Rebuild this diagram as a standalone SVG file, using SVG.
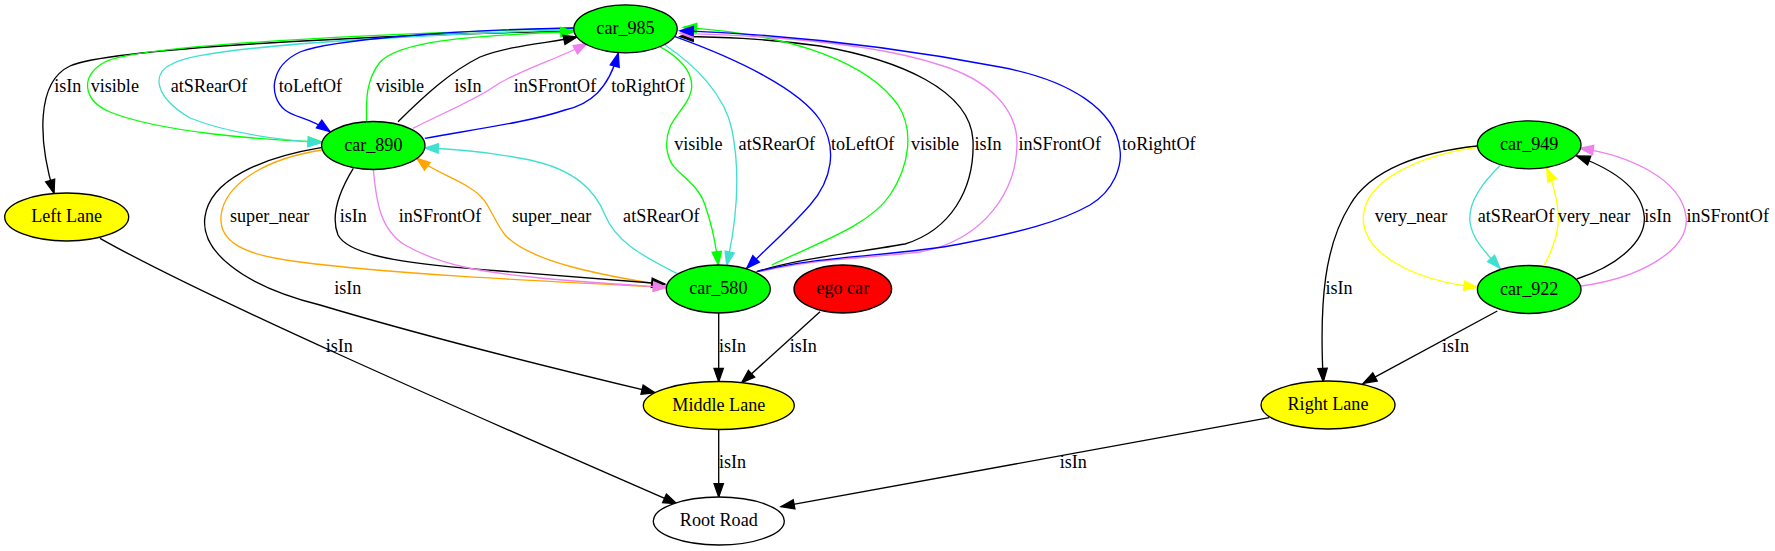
<svg xmlns="http://www.w3.org/2000/svg" width="1775" height="551" viewBox="0 0 1775 551">
<style>
text{font-family:"Liberation Serif","Times New Roman",serif;font-size:18.1px;text-anchor:middle;fill:#000}
.n{stroke:#000;stroke-width:1.33}
.e{fill:none;stroke-width:1.33}
.k{stroke:#000;marker-end:url(#ak)}
.g{stroke:#00ff00;marker-end:url(#ag)}
.t{stroke:#40e0d0;marker-end:url(#at)}
.b{stroke:#0000ff;marker-end:url(#ab)}
.v{stroke:#ee82ee;marker-end:url(#av)}
.o{stroke:#ffa500;marker-end:url(#ao)}
.y{stroke:#ffff00;marker-end:url(#ay)}
</style>
<defs>
<marker id="ak" markerUnits="userSpaceOnUse" orient="auto" refX="13.3" refY="5" markerWidth="16" markerHeight="12" overflow="visible"><path d="M0,0.33L13.3,5L0,9.67z" fill="#000" stroke="#000" stroke-width="1.33"/></marker>
<marker id="ag" markerUnits="userSpaceOnUse" orient="auto" refX="13.3" refY="5" markerWidth="16" markerHeight="12" overflow="visible"><path d="M0,0.33L13.3,5L0,9.67z" fill="#00ff00" stroke="#00ff00" stroke-width="1.33"/></marker>
<marker id="at" markerUnits="userSpaceOnUse" orient="auto" refX="13.3" refY="5" markerWidth="16" markerHeight="12" overflow="visible"><path d="M0,0.33L13.3,5L0,9.67z" fill="#40e0d0" stroke="#40e0d0" stroke-width="1.33"/></marker>
<marker id="ab" markerUnits="userSpaceOnUse" orient="auto" refX="13.3" refY="5" markerWidth="16" markerHeight="12" overflow="visible"><path d="M0,0.33L13.3,5L0,9.67z" fill="#0000ff" stroke="#0000ff" stroke-width="1.33"/></marker>
<marker id="av" markerUnits="userSpaceOnUse" orient="auto" refX="13.3" refY="5" markerWidth="16" markerHeight="12" overflow="visible"><path d="M0,0.33L13.3,5L0,9.67z" fill="#ee82ee" stroke="#ee82ee" stroke-width="1.33"/></marker>
<marker id="ao" markerUnits="userSpaceOnUse" orient="auto" refX="13.3" refY="5" markerWidth="16" markerHeight="12" overflow="visible"><path d="M0,0.33L13.3,5L0,9.67z" fill="#ffa500" stroke="#ffa500" stroke-width="1.33"/></marker>
<marker id="ay" markerUnits="userSpaceOnUse" orient="auto" refX="13.3" refY="5" markerWidth="16" markerHeight="12" overflow="visible"><path d="M0,0.33L13.3,5L0,9.67z" fill="#ffff00" stroke="#ffff00" stroke-width="1.33"/></marker>
</defs>
<rect width="1775" height="551" fill="#fff"/>
<g id="connectors">
<path class="e k" d="M574,31 C380,35 110,48 70,66 C36,82 38,140 54,193.3"/>
<path class="e g" d="M574,28 C380,34 140,44 105,62 C80,75 82,100 110,112 C160,132 260,140 321.5,142"/>
<path class="e t" d="M574,29.5 C400,36 200,46 172,64 C150,74 156,98 190,118 C230,134 280,140 321.5,142.7"/>
<path class="e b" d="M574,28 C450,30 330,40 300,52 C270,66 268,96 285,110 C295,118 309,117 330,131.7"/>
<path class="e g" d="M366.6,121.7 C366,100 366,80 380,62 C400,42 460,36 574,31.5"/>
<path class="e k" d="M398,121.7 C425,95 450,72 480,57 C510,45 550,43 577,37"/>
<path class="e v" d="M413,128.3 C445,112 475,100 495,86 C515,72 560,58 587,43.5"/>
<path class="e b" d="M424.8,138.3 C470,130 530,122 565,110 C590,104 608,90 618.3,53.3"/>
<path class="e g" d="M660,46.7 C680,58 692,72 691.7,86.7 C691,102 675,115 670,127 C664,142 666,160 677,170 C690,182 700,190 705,205 C712,225 716,245 718.3,265"/>
<path class="e t" d="M665,45 C695,65 725,95 732,130 C740,170 738,215 726.7,265"/>
<path class="e b" d="M675,36.7 C740,60 800,90 820,120 C838,148 832,180 810,205 C790,228 765,250 746.7,268.3"/>
<path class="e k" d="M756.7,271.7 C800,258 860,252 905,244 C950,230 975,190 973,140 C970,90 900,60 820,46 C760,38 720,37 680,36.5"/>
<path class="e g" d="M771.7,265 C820,242 870,225 890,195 C910,165 914,130 898,105 C870,65 800,35 683.3,27.3"/>
<path class="e v" d="M760,271.7 C820,258 870,258 920,252 C985,240 1017,190 1017,143 C1017,110 990,80 940,65 C880,45 780,36 680,33.3"/>
<path class="e b" d="M756.7,271.7 C820,255 900,256 960,244 C1020,232 1060,222 1090,205 C1115,190 1122,165 1120,150 C1116,110 1070,80 1000,67 C900,48 800,35 680,30.7"/>
<path class="e o" d="M321.7,150 C270,158 230,180 222,210 C215,240 240,255 300,262 C400,275 560,282 666.7,287.3"/>
<path class="e o" d="M668,286 C600,275 530,262 505,235 C490,215 490,200 470,188 C455,178 435,172 416.7,158.3"/>
<path class="e k" d="M353.3,168.3 C340,190 330,215 338,235 C350,258 420,265 500,271 C570,276 620,280 665,284"/>
<path class="e v" d="M373.3,169 C376,200 380,230 405,245 C440,265 480,272 540,278 C590,283 630,285 666.7,287.3"/>
<path class="e t" d="M676.7,273.3 C640,255 615,240 605,215 C595,190 575,170 530,160 C490,152 460,149 425,148"/>
<path class="e k" d="M321,147.7 C260,158 210,180 205,216.7 C200,250 240,285 320,305 C420,335 560,370 655,392.7"/>
<path class="e k" d="M100,238.3 C200,295 450,405 676.7,503.7"/>
<path class="e k" d="M1477.3,146 C1420,152 1370,170 1350,205 C1325,245 1319,300 1323.3,381.7"/>
<path class="e y" d="M1477.3,147.3 C1420,155 1365,180 1363.3,216.7 C1362,252 1410,280 1477.3,287.3"/>
<path class="e t" d="M1500,165.7 C1480,185 1468,205 1470,222 C1472,240 1488,255 1500,268.3"/>
<path class="e y" d="M1544.3,265 C1555,245 1560,225 1558,210 C1556,195 1552,180 1546.7,168.3"/>
<path class="e k" d="M1576.7,279 C1620,265 1646,240 1644.3,216.7 C1642,190 1615,170 1576.7,156"/>
<path class="e v" d="M1581,286 C1640,278 1690,250 1686,216.7 C1682,180 1630,155 1580,148.3"/>
<path class="e k" d="M1497.3,311 L1363.3,383.3"/>
<path class="e k" d="M718.7,313.3 L718.7,381.7"/>
<path class="e k" d="M820,311.7 L741.7,382.7"/>
<path class="e k" d="M718.7,429.3 L718.7,497"/>
<path class="e k" d="M1269.3,417.7 L781,506.7"/>
<g id="edge-labels">
<text x="67.7" y="91.6">isIn</text>
<text x="114.8" y="91.6">visible</text>
<text x="209" y="91.6">atSRearOf</text>
<text x="310.5" y="91.6">toLeftOf</text>
<text x="400" y="91.6">visible</text>
<text x="468" y="91.6">isIn</text>
<text x="555" y="91.6">inSFrontOf</text>
<text x="648" y="91.6">toRightOf</text>
<text x="698.3" y="149.6">visible</text>
<text x="776.8" y="149.6">atSRearOf</text>
<text x="862.7" y="149.6">toLeftOf</text>
<text x="935" y="149.6">visible</text>
<text x="988" y="149.6">isIn</text>
<text x="1059.7" y="149.6">inSFrontOf</text>
<text x="1158.8" y="149.6">toRightOf</text>
<text x="269.7" y="222.3">super_near</text>
<text x="353.3" y="222.3">isIn</text>
<text x="440" y="222.3">inSFrontOf</text>
<text x="551.7" y="222.3">super_near</text>
<text x="661.3" y="222.3">atSRearOf</text>
<text x="1411" y="222.3">very_near</text>
<text x="1516" y="222.3">atSRearOf</text>
<text x="1594" y="222.3">very_near</text>
<text x="1657.7" y="222.3">isIn</text>
<text x="1727.7" y="222.3">inSFrontOf</text>
<text x="347.7" y="294">isIn</text>
<text x="1339" y="294">isIn</text>
<text x="339.3" y="352.3">isIn</text>
<text x="732.5" y="352.3">isIn</text>
<text x="803.3" y="352.3">isIn</text>
<text x="1455.5" y="352.3">isIn</text>
<text x="732.5" y="468.3">isIn</text>
<text x="1073.3" y="468.3">isIn</text>
</g>
</g>
<g id="car_985"><ellipse class="n" cx="625.5" cy="28.8" rx="51.7" ry="24" fill="#00ff00"/><text x="625.5" y="34.2">car_985</text></g>
<g id="car_890"><ellipse class="n" cx="373.3" cy="145.5" rx="51.7" ry="24" fill="#00ff00"/><text x="373.3" y="150.9">car_890</text></g>
<g id="left_lane"><ellipse class="n" cx="66.7" cy="217" rx="62" ry="24" fill="#ffff00"/><text x="66.7" y="222.4">Left Lane</text></g>
<g id="car_580"><ellipse class="n" cx="718.3" cy="289" rx="52" ry="24" fill="#00ff00"/><text x="718.3" y="294.4">car_580</text></g>
<g id="ego_car"><ellipse class="n" cx="842.8" cy="289" rx="48.8" ry="24" fill="#ff0000"/><text x="842.8" y="294.4">ego car</text></g>
<g id="middle_lane"><ellipse class="n" cx="718.8" cy="405.5" rx="75.5" ry="24" fill="#ffff00"/><text x="718.8" y="410.9">Middle Lane</text></g>
<g id="root_road"><ellipse class="n" cx="718.8" cy="521" rx="65.5" ry="24" fill="#ffffff"/><text x="718.8" y="526.4">Root Road</text></g>
<g id="right_lane"><ellipse class="n" cx="1328" cy="405" rx="67" ry="24" fill="#ffff00"/><text x="1328" y="410.4">Right Lane</text></g>
<g id="car_949"><ellipse class="n" cx="1529.2" cy="144.8" rx="51.8" ry="24" fill="#00ff00"/><text x="1529.2" y="150.2">car_949</text></g>
<g id="car_922"><ellipse class="n" cx="1529.2" cy="289.5" rx="51.8" ry="24" fill="#00ff00"/><text x="1529.2" y="294.9">car_922</text></g>
</svg>
